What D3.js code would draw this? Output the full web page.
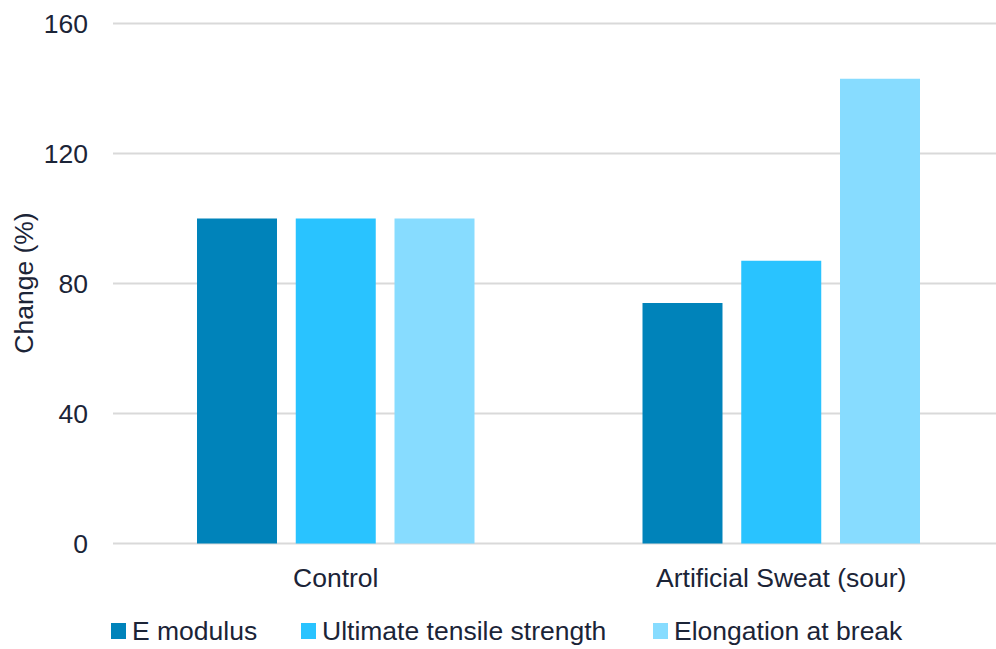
<!DOCTYPE html>
<html>
<head>
<meta charset="utf-8">
<script src="https://cdn.jsdelivr.net/npm/d3@7"></script>
<style>
  html, body { margin: 0; padding: 0; background: #ffffff; }
  svg { display: block; font-family: "Liberation Sans", Arial, Helvetica, sans-serif; }
</style>
</head>
<body>
<svg id="chart" width="996" height="649"></svg>
<script>
const categories = ["Control", "Artificial Sweat (sour)"];
const seriesNames = ["E modulus", "Ultimate tensile strength", "Elongation at break"];
const eModulus = [100, 74];
const ultimateTensile = [100, 87];
const elongation = [100, 143];
const yTicks = [0, 40, 80, 120, 160];
const yLabel = "Change (%)";
const colors = ["#0083BA", "#29C3FF", "#87DCFF"];

const seriesValues = [eModulus, ultimateTensile, elongation];

const svg = d3.select("#chart");
const textColor = "#1b2437";

const y = d3.scaleLinear().domain([0, 160]).range([543.5, 23.5]);
const x0 = d3.scaleBand().domain(categories).range([113, 1004]).paddingInner(0).paddingOuter(0);
const x1 = d3.scaleBand().domain(seriesNames).range([84, x0.bandwidth() - 84]).paddingInner(0.19).paddingOuter(0);

// gridlines
svg.append("g").selectAll("line").data(yTicks).join("line")
  .attr("x1", 113).attr("x2", 1004)
  .attr("y1", d => y(d)).attr("y2", d => y(d))
  .attr("stroke", "#d9d9d9").attr("stroke-width", 2);

// y tick labels
const yAxis = d3.axisLeft(y).tickValues(yTicks).tickSize(0).tickPadding(0);
const gy = svg.append("g").attr("transform", "translate(88,0)").call(yAxis);
gy.select(".domain").remove();
gy.selectAll("text").attr("font-size", 26.5).attr("fill", textColor)
  .attr("font-family", "Liberation Sans, Arial, sans-serif").attr("dy", "0.35em");

// bars
const groups = svg.append("g").selectAll("g").data(categories).join("g")
  .attr("transform", d => `translate(${x0(d)},0)`);
groups.selectAll("rect").data((c, ci) => seriesNames.map((s, si) => ({s, si, v: seriesValues[si][ci]})))
  .join("rect")
  .attr("x", d => x1(d.s))
  .attr("width", x1.bandwidth())
  .attr("y", d => y(d.v))
  .attr("height", d => y(0) - y(d.v))
  .attr("fill", d => colors[d.si]);

// x axis labels
const xAxis = d3.axisBottom(x0).tickSize(0).tickPadding(0);
const gx = svg.append("g").attr("transform", "translate(0,587)").call(xAxis);
gx.select(".domain").remove();
gx.selectAll("text").attr("font-size", 26.5).attr("fill", textColor)
  .attr("font-family", "Liberation Sans, Arial, sans-serif").attr("dy", 0);

// y label
svg.append("text")
  .attr("transform", "translate(33,283) rotate(-90)")
  .attr("text-anchor", "middle")
  .attr("font-size", 26.5).attr("fill", textColor)
  .text(yLabel);

// legend
const legendX = [111, 301, 653];
const leg = svg.append("g").selectAll("g").data(seriesNames).join("g")
  .attr("transform", (d, i) => `translate(${legendX[i]},623)`);
leg.append("rect").attr("width", 15).attr("height", 16).attr("fill", (d, i) => colors[i]);
leg.append("text").attr("x", 21).attr("y", 17)
  .attr("font-size", 26.5).attr("fill", textColor).text(d => d);
</script>
</body>
</html>
